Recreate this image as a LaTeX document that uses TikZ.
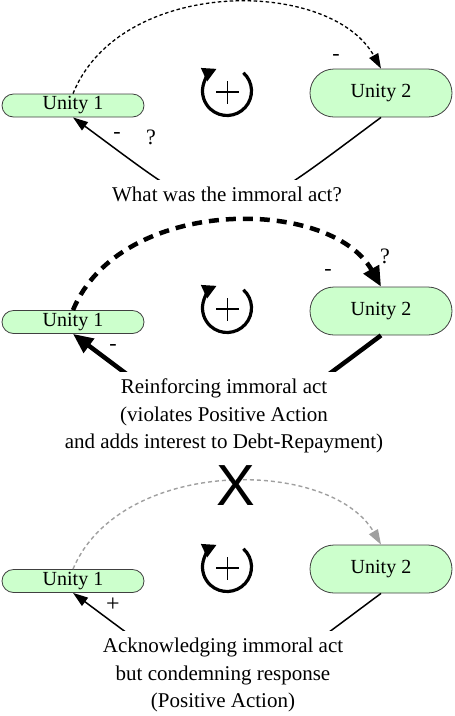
\documentclass[tikz,border=0pt]{standalone}
\usepackage{fontspec}
\setmainfont{Liberation Serif}
\newfontfamily\xsans{Liberation Sans}
\usetikzlibrary{arrows.meta}
\definecolor{unitfill}{HTML}{CCFFCC}
\definecolor{lightdash}{HTML}{A0A0A0}
\begin{document}
\begin{tikzpicture}[x=1pt,y=1pt,
  unitbase/.style={rectangle, draw=black!75, fill=unitfill, line width=0.8pt,
    minimum width=142pt, inner sep=0pt, font=\fontsize{20}{22}\selectfont},
  unitsmall/.style={unitbase, minimum height=23pt, rounded corners=11.5pt},
  unitbig/.style={unitbase, minimum height=48pt, rounded corners=24pt},
  caption/.style={fill=white, inner sep=7pt, align=center, anchor=north,
    font=\fontsize{21}{27.5}\selectfont},
  sign/.style={font=\fontsize{22}{24}\selectfont, inner sep=0pt},
  thintip/.style={-{Triangle[length=15pt,width=10pt]}},
  thicktip/.style={-{Triangle[length=20pt,width=17pt]}},
  dashthin/.style={line width=1.3pt, dash pattern=on 3.5pt off 2.5pt, thintip},
  dashthick/.style={line width=4.5pt, dash pattern=on 10pt off 7pt, thicktip},
  dashgray/.style={draw=lightdash, line width=1.4pt, dash pattern=on 4pt off 3pt,
    -{Triangle[length=15pt,width=10pt,fill=lightdash]}},
  linkthin/.style={line width=1.5pt, thintip},
  linkthick/.style={line width=4.5pt, thicktip},
  looparc/.style={line width=3.2pt, -{Triangle[length=14pt,width=14pt]}},
  plusbar/.style={line width=1.8pt}
]
\useasboundingbox (0,0) rectangle (455,-716);

% ---------------- panel 1 ----------------
\node[unitsmall] (u1a) at (73,-105.5) {Unity 1};
\node[unitbig] (u2a) at (381,-93) {Unity 2};
\draw[dashthin] (u1a.north) .. controls (120,23) and (330,23) .. (u2a.north);
\draw[linkthin] (u2a.south) .. controls (220,-237) and (235,-237) .. (u1a.south);
\node[caption] (t1) at (227,-180) {What was the immoral act?};
\node[sign] (m1) at (336,-57) {-};
\node[sign] (m2) at (117,-135) {-};
\node[sign] (q1) at (151,-137) {?};
\coordinate (l1) at (227,-91);
\draw[looparc] ([shift={(48:24.5)}]l1) arc[start angle=48, end angle=-245, radius=24.5];
\draw[plusbar] ([shift={(-11,-1)}]l1) -- ([shift={(12,-1)}]l1);
\draw[plusbar] ([shift={(0.5,-12.5)}]l1) -- ([shift={(0.5,10.5)}]l1);

% ---------------- panel 2 ----------------
\node[unitsmall] (u1b) at (73,-322) {Unity 1};
\node[unitbig] (u2b) at (381,-311) {Unity 2};
\draw[dashthick] (u1b.north) .. controls (120,-196) and (330,-196) .. (u2b.north);
\draw[linkthick] (u2b.south) .. controls (220,-455) and (235,-455) .. (u1b.south);
\node[caption] (t2) at (224,-372) {Reinforcing immoral act\\(violates Positive Action\\and adds interest to Debt-Repayment)};
\node[sign] (m3) at (328,-272) {-};
\node[sign] (q2) at (385,-256) {?};
\node[sign] (m4) at (113,-347) {-};
\coordinate (l2) at (227,-308);
\draw[looparc] ([shift={(48:24.5)}]l2) arc[start angle=48, end angle=-245, radius=24.5];
\draw[plusbar] ([shift={(-11,-1)}]l2) -- ([shift={(12,-1)}]l2);
\draw[plusbar] ([shift={(0.5,-12.5)}]l2) -- ([shift={(0.5,10.5)}]l2);

% ---------------- panel 3 ----------------
\node[unitsmall] (u1c) at (73,-581) {Unity 1};
\node[unitbig] (u2c) at (381,-569) {Unity 2};
\draw[dashgray] (u1c.north) .. controls (120,-457) and (330,-457) .. (u2c.north);
\node[font=\xsans\fontsize{58}{60}\selectfont, inner sep=0pt] (x1) at (236,-486) {X};
\draw[linkthin] (u2c.south) .. controls (220,-713) and (235,-713) .. (u1c.south);
\node[caption] (t3) at (223,-631) {Acknowledging immoral act\\but condemning response\\(Positive Action)};
\node[font=\fontsize{24}{26}\selectfont, inner sep=0pt] (p1) at (113,-605) {+};
\coordinate (l3) at (227,-567);
\draw[looparc] ([shift={(48:24.5)}]l3) arc[start angle=48, end angle=-245, radius=24.5];
\draw[plusbar] ([shift={(-11,-1)}]l3) -- ([shift={(12,-1)}]l3);
\draw[plusbar] ([shift={(0.5,-12.5)}]l3) -- ([shift={(0.5,10.5)}]l3);
\end{tikzpicture}
\end{document}
